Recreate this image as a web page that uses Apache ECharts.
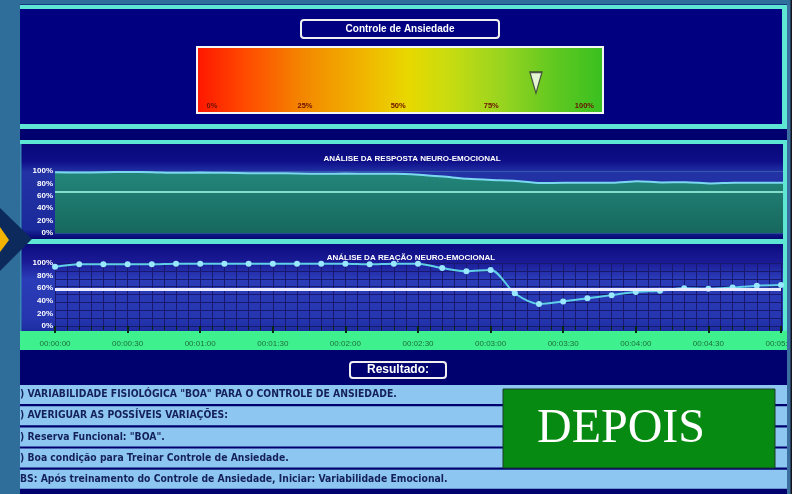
<!DOCTYPE html>
<html>
<head>
<meta charset="utf-8">
<script src="https://cdn.jsdelivr.net/npm/echarts@6/dist/echarts.min.js"></script>
<style>
html, body { margin: 0; padding: 0; background: #2f6e9b; }
#chart { width: 802px; height: 494px; }
</style>
</head>
<body>
<div id="chart"></div>
<script>
// tempo (s), uma amostra a cada 10 s
const tempos = [0, 10, 20, 30, 40, 50, 60, 70, 80, 90, 100, 110, 120, 130, 140, 150,
  160, 170, 180, 190, 200, 210, 220, 230, 240, 250, 260, 270, 280, 290, 300]
// análise da resposta neuro-emocional (%)
const respostaValores = [98, 97.5, 98, 98.5, 98, 97, 97.5, 97, 96.5, 96.5, 96, 95.5, 96, 95.5, 95.5, 94,
  91, 87.5, 85.5, 84, 80.5, 81, 81, 81, 83.5, 81.5, 82, 80, 81, 81, 81]
// análise da reação neuro-emocional (%)
const reacaoValores = [94, 98, 98, 98, 98, 99, 99, 99, 99, 99, 99, 99, 99, 98, 99, 99,
  92, 87, 89, 52, 35, 39, 44, 49, 54, 56, 60, 59, 61, 64, 65]
const respostaReferencia = 66
const reacaoReferencia = 58
// controle de ansiedade (%)
const controleAnsiedade = 87
const escalaRotulos = [0, 25, 50, 75, 100]
const resultadoLinhas = [
  ') VARIABILIDADE FISIOLÓGICA "BOA" PARA O CONTROLE DE ANSIEDADE.',
  ') AVERIGUAR AS POSSÍVEIS VARIAÇÕES:',
  ') Reserva Funcional: "BOA".',
  ') Boa condição para Treinar Controle de Ansiedade.',
  'BS: Após treinamento do Controle de Ansiedade, Iniciar: Variabilidade Emocional.'
]

const fmtTempo = (s) => {
  const p = (n) => String(n).padStart(2, '0')
  return p(Math.floor(s / 3600)) + ':' + p(Math.floor(s / 60) % 60) + ':' + p(s % 60)
}

const CYAN = '#5ee6d4'
const FONT = 'Liberation Sans'
const grad = (stops, horiz) => new echarts.graphic.LinearGradient(0, 0, horiz ? 1 : 0, horiz ? 0 : 1,
  stops.map(([offset, color]) => ({ offset, color })))

const fundo = [
  { type: 'rect', shape: { x: 0, y: 0, width: 802, height: 494 }, style: { fill: '#2f6e9b' } },
  { type: 'rect', shape: { x: 20, y: 4, width: 768, height: 490 }, style: { fill: '#00006e' } },
  // painel 1
  { type: 'rect', shape: { x: 20, y: 9, width: 763, height: 115 }, style: { fill: '#000080' } },
  { type: 'rect', shape: { x: 20, y: 5, width: 767, height: 4 }, style: { fill: CYAN } },
  { type: 'rect', shape: { x: 782, y: 5, width: 5, height: 123 }, style: { fill: CYAN } },
  { type: 'rect', shape: { x: 20, y: 124, width: 767, height: 5 }, style: { fill: CYAN } },
  // painel 2
  { type: 'rect', shape: { x: 20, y: 144, width: 763, height: 95 },
    style: { fill: grad([[0, '#08087a'], [0.18, '#0e0e88'], [0.3, '#2333a6'], [0.9, '#1a2a9a'], [1, '#060670']]) } },
  // painel 3
  { type: 'rect', shape: { x: 20, y: 244, width: 763, height: 87 },
    style: { fill: grad([[0, '#0c0c80'], [0.2, '#1a1a95'], [0.4, '#2b3cb8'], [0.85, '#2636b0'], [1, '#1c2ca0']]) } },
  { type: 'rect', shape: { x: 20, y: 140, width: 767, height: 4 }, style: { fill: CYAN } },
  { type: 'rect', shape: { x: 20, y: 239, width: 767, height: 5 }, style: { fill: CYAN } },
  { type: 'rect', shape: { x: 783, y: 140, width: 4, height: 191 }, style: { fill: CYAN } },
  { type: 'rect', shape: { x: 20, y: 144, width: 1.5, height: 187 }, style: { fill: '#3a8ab0' } },
  // faixa verde do eixo
  { type: 'rect', shape: { x: 20, y: 331, width: 767, height: 19 }, style: { fill: '#3ff08e' } },
  // enfeite à esquerda
  { type: 'polygon', shape: { points: [[0, 208], [32, 239], [0, 271]] }, style: { fill: '#0c2a5c' } },
  { type: 'polygon', shape: { points: [[0, 227], [9, 240], [0, 252]] }, style: { fill: '#f2b400' } },
  // título do controle
  { type: 'rect', shape: { x: 301, y: 20, width: 198, height: 18, r: 3 },
    style: { fill: '#000080', stroke: '#f0f0f0', lineWidth: 2 } },
  { type: 'text', x: 400, y: 29, style: { text: 'Controle de Ansiedade', fill: '#ffffff', font: 'bold 10px ' + FONT,
    align: 'center', verticalAlign: 'middle' } },
  // barra de gradiente
  { type: 'rect', shape: { x: 197, y: 47, width: 406, height: 66 },
    style: { fill: grad([[0, '#ff1500'], [0.12, '#ff4a00'], [0.27, '#f38a00'], [0.42, '#f0b800'], [0.52, '#e8d800'],
      [0.62, '#c8dc10'], [0.75, '#98d420'], [0.88, '#60c820'], [1, '#38c020']], true), stroke: '#f4f4f4', lineWidth: 2 } },
  // resultado
  { type: 'rect', shape: { x: 350, y: 362, width: 96, height: 16, r: 3 },
    style: { fill: '#000070', stroke: '#f0f0f0', lineWidth: 2 } },
  { type: 'text', x: 398, y: 370, style: { text: 'Resultado:', fill: '#ffffff', font: 'bold 12px ' + FONT,
    align: 'center', verticalAlign: 'middle' } }
]

const linhas = []
resultadoLinhas.forEach((t, i) => {
  const y = 385 + i * 21.2
  linhas.push({ type: 'rect', shape: { x: 20, y: y, width: 767, height: 19 }, style: { fill: '#8ec6f2' } })
  linhas.push({ type: 'text', x: 20, y: y + 9.5, style: { text: t, fill: '#14205a',
    font: 'bold 10.3px "DejaVu Sans Condensed", "DejaVu Sans"', verticalAlign: 'middle' } })
})

const frente = [
  { type: 'rect', shape: { x: 503, y: 389, width: 272, height: 79 },
    style: { fill: '#078a12', stroke: '#1a3a2a', lineWidth: 1 } },
  { type: 'text', x: 621, y: 429, style: { text: 'DEPOIS', fill: '#ffffff', font: '48px "Liberation Serif"',
    align: 'center', verticalAlign: 'middle' } },
  // borda direita
  { type: 'rect', z: 100, shape: { x: 787, y: 0, width: 4, height: 494 }, style: { fill: '#3a6fa0' } },
  { type: 'rect', z: 100, shape: { x: 790.5, y: 0, width: 1.5, height: 494 }, style: { fill: '#151520' } },
  { type: 'rect', z: 100, shape: { x: 792, y: 0, width: 10, height: 494 }, style: { fill: '#ffffff' } },
  { type: 'rect', z: 100, shape: { x: 0, y: 0, width: 790, height: 4.5 }, style: { fill: '#2f6e9b' } }
]

const yLabel = { formatter: '{value}%', color: '#ffffff', fontSize: 8, fontWeight: 'bold', fontFamily: FONT, margin: 2 }
const gridLinha = { lineStyle: { color: '#18186e', width: 1 } }

const chart = echarts.init(document.getElementById('chart'))
chart.setOption({
  animation: false,
  textStyle: { fontFamily: FONT },
  graphic: { elements: [...fundo, ...linhas, ...frente].map(e => Object.assign({ z: -1 }, e)) },
  title: [
    { text: 'ANÁLISE DA RESPOSTA NEURO-EMOCIONAL', left: 407, top: 150, textAlign: 'center',
      textStyle: { color: '#ffffff', fontSize: 8, fontWeight: 'bold' } },
    { text: 'ANÁLISE DA REAÇÃO NEURO-EMOCIONAL', left: 406, top: 249, textAlign: 'center',
      textStyle: { color: '#ffffff', fontSize: 8, fontWeight: 'bold' } }
  ],
  grid: [
    { left: 55, top: 171, width: 728, height: 62 },
    { left: 55, top: 263, width: 726, height: 63 },
    { left: 197, top: 47, width: 406, height: 66 }
  ],
  xAxis: [
    { gridIndex: 0, type: 'value', min: 0, max: 300, interval: 30, axisLine: { show: false },
      axisTick: { show: false }, axisLabel: { show: false }, splitLine: { show: false } },
    { gridIndex: 1, type: 'value', min: 0, max: 300, interval: 30, offset: 6,
      axisLine: { show: false },
      axisTick: { length: 7, lineStyle: { color: '#0a2a10', width: 2 } },
      minorTick: { show: true, splitNumber: 6, length: 4, lineStyle: { color: '#0a2a10', width: 1 } },
      axisLabel: { formatter: fmtTempo, color: '#1e6e3a', fontSize: 8, margin: 8 },
      splitLine: gridLinha, minorSplitLine: { show: true, lineStyle: { color: '#18186e' } } },
    { gridIndex: 2, type: 'value', min: -4, max: 105, axisLine: { show: false }, axisTick: { show: false },
      splitLine: { show: false },
      axisLabel: { inside: true, customValues: escalaRotulos, formatter: '{value}%', color: '#6a1000',
        fontSize: 7.5, fontWeight: 'bold', margin: 3 } }
  ],
  yAxis: [
    { gridIndex: 0, type: 'value', min: 0, max: 100, interval: 20, axisLabel: yLabel,
      axisLine: { show: false }, axisTick: { show: false },
      splitLine: { lineStyle: { color: 'rgba(130,230,210,0.22)' } } },
    { gridIndex: 1, type: 'value', min: 0, max: 100, interval: 20, axisLabel: yLabel,
      axisLine: { show: false }, axisTick: { show: false }, splitLine: { show: false } },
    { gridIndex: 1, type: 'value', min: 0, max: 100, interval: 12.5, position: 'right',
      axisLabel: { show: false }, axisLine: { show: false }, axisTick: { show: false }, splitLine: gridLinha },
    { gridIndex: 2, type: 'value', min: 0, max: 1, show: false }
  ],
  series: [
    {
      type: 'line', xAxisIndex: 0, yAxisIndex: 0, smooth: 0.2, showSymbol: false,
      data: tempos.map((t, i) => [t, respostaValores[i]]),
      lineStyle: { color: '#7cd8f0', width: 2 },
      areaStyle: { color: grad([[0, '#23867a'], [1, '#17685e']]), opacity: 1 },
      markLine: { silent: true, symbol: 'none', label: { show: false },
        lineStyle: { color: 'rgba(150,240,220,0.85)', width: 2, type: 'solid' },
        data: [{ yAxis: respostaReferencia }] }
    },
    {
      type: 'line', xAxisIndex: 1, yAxisIndex: 1, smooth: 0.3, symbol: 'circle', symbolSize: 6,
      data: tempos.map((t, i) => [t, reacaoValores[i]]),
      lineStyle: { color: '#5fd0e8', width: 2 },
      itemStyle: { color: '#9ae8ff' },
      markLine: { silent: true, symbol: 'none', label: { show: false },
        lineStyle: { color: '#e8e8ff', width: 3, type: 'solid' },
        data: [{ yAxis: reacaoReferencia }] }
    },
    {
      type: 'scatter', xAxisIndex: 2, yAxisIndex: 3,
      data: [[controleAnsiedade, 0.46]],
      symbol: 'triangle', symbolRotate: 180, symbolSize: [12, 21],
      itemStyle: { color: '#ffffff', borderColor: '#303030', borderWidth: 1.5 }
    }
  ]
})
</script>
</body>
</html>
